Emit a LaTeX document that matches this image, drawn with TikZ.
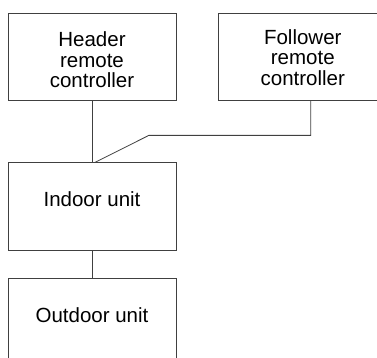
\documentclass[tikz,border=0pt]{standalone}
\usepackage{fontspec}
\setmainfont{Liberation Sans}
\usetikzlibrary{positioning}

\begin{document}
\begin{tikzpicture}[
  node distance=62pt and 42pt,
  ctrl/.style={draw=black!75, line width=0.8pt, minimum width=168pt, inner sep=0pt, align=center, text height=75pt, text depth=12pt, font=\fontsize{20.5}{20.5}\selectfont},
  unit/.style={draw=black!75, line width=0.8pt, minimum width=168pt, inner sep=0pt, text height=43.5pt, text depth=44.5pt, font=\fontsize{20.5}{20.5}\selectfont},
  link/.style={draw=black!75, line width=0.8pt}
]
\useasboundingbox (0,0) rectangle (377pt,-358pt);
\clip (0,0) rectangle (377pt,-358pt);

\node[ctrl] (header) at (92pt,-56.5pt) {Header\\remote\\controller};
\node[ctrl, right=of header, text height=72.5pt, text depth=14.5pt] (follower) {Follower\\remote\\controller};

\node[unit, below=of header] (indoor) {Indoor unit};
\node[unit, below=27pt of indoor] (outdoor) {Outdoor unit};

\coordinate[xshift=8pt] (fdrop) at (follower.south);
\coordinate[xshift=3pt] (join) at (indoor.north);

\draw[link] (header) -- (indoor);
\draw[link] (fdrop) -- ++(0,-35pt) -- ++(-162pt,0) -- (join);
\draw[link] (indoor) -- (outdoor);
\end{tikzpicture}
\end{document}
